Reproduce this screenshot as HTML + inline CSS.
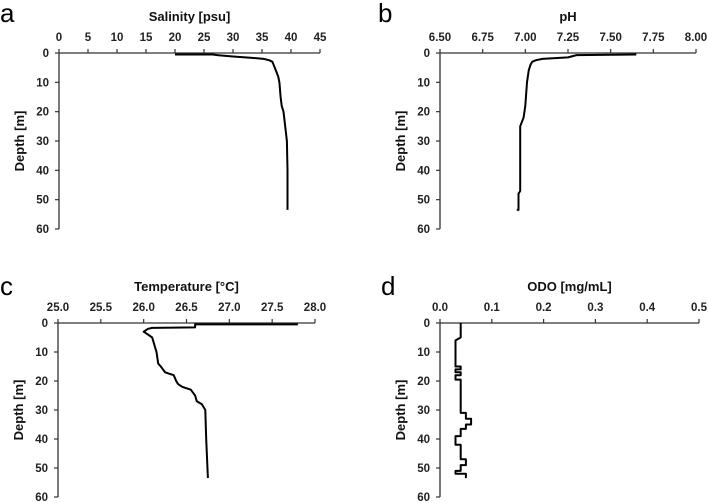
<!DOCTYPE html>
<html><head><meta charset="utf-8"><style>
html,body{margin:0;padding:0;background:#fff;}
svg{display:block;font-family:"Liberation Sans",sans-serif;}
.tick{font-size:11.5px;font-weight:bold;fill:#222;}
.title{font-size:13px;font-weight:bold;fill:#111;}
.letter{font-size:26px;fill:#000;}
</style></head><body>
<svg id="c" width="708" height="503" viewBox="0 0 708 503"></svg>
<script>
const salDepth=[0.5,0.5,0.8,1.2,1.6,2,2.5,3,5,8,10,15,18,20,25,30,40,50,53.5];
const salVal=[20,26.5,27.5,30,33,35.3,36.3,36.8,37.2,37.8,38,38.2,38.4,38.7,39,39.3,39.4,39.4,39.4];
const phDepth=[0.5,0.7,1.5,2,2.5,3,4,6,10,18,22,25,47,48,53.5,53.5];
const phVal=[7.65,7.3,7.25,7.1,7.06,7.04,7.03,7.02,7.01,7.0,6.99,6.97,6.97,6.96,6.96,6.95];
const tDepth=[0.5,0.5,1.5,1.7,2,3,4,5,7,10,14,15,17,18,20,21,22,23,25,27,28,30,40,53.5];
const tVal=[27.8,26.6,26.6,26.1,26.05,26.0,26.05,26.1,26.12,26.15,26.17,26.2,26.25,26.35,26.38,26.4,26.45,26.55,26.6,26.62,26.68,26.72,26.73,26.75];
const oDepth=[0,5,6,15,15,16,16,17,17,18,18,19.5,19.5,31,31,33,33,35,35,36.5,36.5,39,39,42,42,47,47,49,49,51,51,52,52,53.5];
const oVal=[0.04,0.04,0.03,0.03,0.04,0.04,0.03,0.03,0.04,0.04,0.03,0.03,0.04,0.04,0.05,0.05,0.06,0.06,0.05,0.05,0.04,0.04,0.03,0.03,0.04,0.04,0.05,0.05,0.04,0.04,0.03,0.03,0.05,0.05];
const depthTicks=[0,10,20,30,40,50,60];
const salTicks=[0,5,10,15,20,25,30,35,40,45];
const phTicks=[6.5,6.75,7.0,7.25,7.5,7.75,8.0];
const tTicks=[25,25.5,26,26.5,27,27.5,28];
const oTicks=[0,0.1,0.2,0.3,0.4,0.5];

const svg=document.getElementById('c');
const NS='http://www.w3.org/2000/svg';
function mk(tag,attrs,parent){const e=document.createElementNS(NS,tag);for(const k in attrs)e.setAttribute(k,attrs[k]);parent.appendChild(e);return e;}

function panel(key,letter,lx,ly,title,x0,x1,y0,y1,xmin,xmax,ticks,dec,vals,depths){
  const g=mk('g',{},svg);
  
  
  const xs=v=>x0+(v-xmin)/(xmax-xmin)*(x1-x0);
  const ys=d=>y0+d/60*(y1-y0);
  const L=mk('text',{x:lx,y:ly,class:'letter'},g);L.textContent=letter;
  
  
  const T=mk('text',{x:(x0+x1)/2,y:y0-32,class:'title','text-anchor':'middle'},g);T.textContent=title;
  
  
  const xa=mk('line',{x1:x0,y1:y0,x2:x1,y2:y0,stroke:'#333','stroke-width':1.3},g);
  
  
  const ya=mk('line',{x1:x0,y1:y0,x2:x0,y2:y1,stroke:'#333','stroke-width':1.3},g);
  
  
  ticks.forEach(t=>{
    const x=xs(t);
    mk('line',{x1:x,y1:y0-4,x2:x,y2:y0,stroke:'#333','stroke-width':1.2},g);
    const tx=mk('text',{x:x,y:y0-12,class:'tick','text-anchor':'middle'},g);
    tx.textContent=t.toFixed(dec);
    
    
  });
  depthTicks.forEach(d=>{
    const y=ys(d);
    mk('line',{x1:x0-4,y1:y,x2:x0,y2:y,stroke:'#333','stroke-width':1.2},g);
    const tx=mk('text',{x:x0-10,y:y+4,class:'tick','text-anchor':'end'},g);
    tx.textContent=d;
    
    
  });
  const yt=mk('text',{x:0,y:0,class:'title','text-anchor':'middle',transform:`translate(${x0-35},${(y0+y1)/2}) rotate(-90)`},g);
  yt.textContent='Depth [m]';
  
  
  const pts=vals.map((v,i)=>xs(v).toFixed(1)+','+ys(depths[i]).toFixed(1)).join(' ');
  const pl=mk('polyline',{points:pts,fill:'none',stroke:'#000','stroke-width':2,'stroke-linejoin':'round'},g);
  
  
}
panel('salinity','a',0,22,'Salinity [psu]',59,320,53,229,0,45,salTicks,0,salVal,salDepth);
panel('ph','b',378,22,'pH',440,696,53,229,6.5,8.0,phTicks,2,phVal,phDepth);
panel('temperature','c',0,295,'Temperature [°C]',58,315,323,497,25,28,tTicks,1,tVal,tDepth);
panel('odo','d',381,295,'ODO [mg/mL]',440,699,323,497,0,0.5,oTicks,1,oVal,oDepth);
</script>
</body></html>
